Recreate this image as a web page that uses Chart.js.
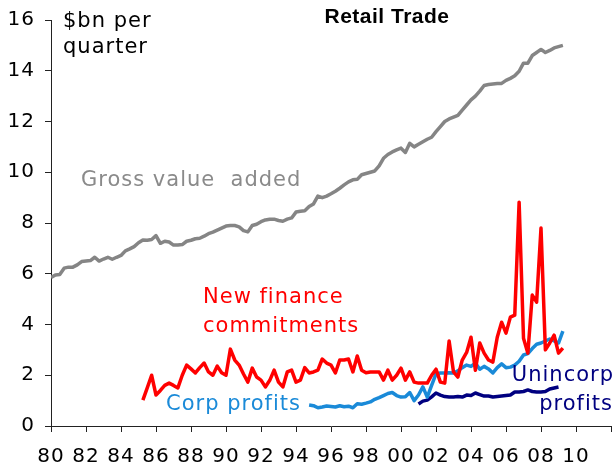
<!DOCTYPE html>
<html lang="en">
<head>
<meta charset="UTF-8">
<title>Retail Trade</title>
<script src="https://cdn.jsdelivr.net/npm/chart.js"></script>
<style>
  html, body { margin: 0; padding: 0; background: #fff; }
  #wrap { width: 615px; height: 473px; }
</style>
</head>
<body>
<div id="wrap"><canvas id="myChart"></canvas></div>
<script>
// quarterly series, $bn per quarter
var gvaStart = 1980;
var gvaValues = [
  5.85, 5.95, 5.97, 6.22, 6.26, 6.26, 6.35, 6.48, 6.5, 6.52, 6.65, 6.5,
  6.58, 6.65, 6.57, 6.65, 6.72, 6.9, 6.98, 7.07, 7.22, 7.33, 7.32, 7.35,
  7.5, 7.2, 7.28, 7.25, 7.13, 7.13, 7.15, 7.28, 7.32, 7.38, 7.4, 7.48,
  7.58, 7.64, 7.72, 7.8, 7.88, 7.9, 7.9, 7.85, 7.7, 7.65, 7.9, 7.95,
  8.05, 8.12, 8.15, 8.15, 8.1, 8.07, 8.15, 8.2, 8.43, 8.46, 8.48, 8.65,
  8.75, 9.06, 9.0, 9.06, 9.15, 9.25, 9.37, 9.5, 9.62, 9.7, 9.72, 9.9,
  9.95, 10.0, 10.05, 10.25, 10.55, 10.7, 10.8, 10.88, 10.95, 10.78, 11.14, 11.0,
  11.1, 11.2, 11.3, 11.38, 11.6, 11.8, 12.0, 12.1, 12.17, 12.24, 12.45, 12.65,
  12.85, 13.0, 13.2, 13.42, 13.46, 13.48, 13.5, 13.5, 13.62, 13.7, 13.8, 13.98,
  14.3, 14.3, 14.6, 14.72, 14.84, 14.72, 14.8, 14.9, 14.95, 15.0
];

var financeStart = 1985.25;
var financeValues = [
  1.02, 1.5, 2.0, 1.22, 1.4, 1.6, 1.69, 1.6, 1.5, 2.0, 2.4, 2.25,
  2.09, 2.3, 2.48, 2.13, 2.0, 2.36, 2.1, 2.0, 3.03, 2.6, 2.4, 2.05,
  1.73, 2.28, 1.93, 1.81, 1.54, 1.8, 2.2, 1.73, 1.54, 2.13, 2.2, 1.73,
  1.81, 2.3, 2.09, 2.13, 2.2, 2.64, 2.48, 2.4, 2.09, 2.6, 2.6, 2.64,
  2.13, 2.76, 2.2, 2.1, 2.13, 2.13, 2.13, 1.81, 2.2, 1.81, 2.0, 2.28,
  1.81, 2.13, 1.73, 1.69, 1.69, 1.69, 2.0, 2.24, 1.73, 1.69, 3.35, 2.13,
  1.93, 2.6, 2.9, 3.5, 2.2, 3.27, 2.87, 2.6, 2.52, 3.5, 4.09, 3.66,
  4.29, 4.37, 8.82, 3.46, 2.87, 5.16, 4.88, 7.8, 3.0, 3.27, 3.58, 2.87,
  3.07
];

var corpStart = 1994.75;
var corpValues = [
  0.83, 0.8, 0.72, 0.75, 0.79, 0.77, 0.75, 0.8, 0.76, 0.78, 0.72, 0.88,
  0.86, 0.9, 0.95, 1.05, 1.12, 1.2, 1.28, 1.32, 1.2, 1.14, 1.15, 1.32,
  1.0, 1.22, 1.54, 1.14, 1.6, 2.05, 2.09, 2.09, 2.1, 2.09, 2.17, 2.3,
  2.4, 2.35, 2.48, 2.24, 2.35, 2.25, 2.09, 2.3, 2.45, 2.3, 2.32, 2.4,
  2.55, 2.8, 2.85, 3.05, 3.22, 3.27, 3.35, 3.43, 3.35, 3.27, 3.74
];

var unincorpStart = 2001;
var unincorpValues = [
  0.87, 0.98, 1.02, 1.15, 1.3, 1.22, 1.16, 1.14, 1.14, 1.16, 1.14, 1.22,
  1.2, 1.3, 1.24, 1.18, 1.18, 1.14, 1.16, 1.18, 1.2, 1.22, 1.34, 1.34,
  1.36, 1.42, 1.36, 1.34, 1.34, 1.36, 1.46, 1.5, 1.54
];

var yearTicks = [1980, 1982, 1984, 1986, 1988, 1990, 1992, 1994, 1996,
  1998, 2000, 2002, 2004, 2006, 2008, 2010, 2012];

function quarterly(start, values) {
  return values.map(function (v, i) { return { x: start + i * 0.25, y: v }; });
}

// text labels drawn on the canvas
var labelsPlugin = {
  id: 'labels',
  beforeDraw: function (chart) {
    chart.ctx.letterSpacing = '1px';
  },
  afterDatasetsDraw: function (chart) {
    var ctx = chart.ctx;
    ctx.save();
    ctx.textBaseline = 'middle';
    ctx.fillStyle = '#000';
    ctx.letterSpacing = '0.5px';
    ctx.font = 'bold 21px "Liberation Sans", Arial, sans-serif';
    ctx.textAlign = 'center';
    ctx.fillText('Retail Trade', 387, 17);

    ctx.letterSpacing = '1px';
    ctx.font = '21px "DejaVu Sans", Verdana, sans-serif';
    ctx.textAlign = 'left';
    ctx.fillText('$bn per', 63, 22);
    ctx.fillText('quarter', 63, 48);

    ctx.fillStyle = '#8a8a8a';
    ctx.fillText('Gross value  added', 81, 181);

    ctx.fillStyle = '#ff0000';
    ctx.fillText('New finance', 203, 298);
    ctx.fillText('commitments', 203, 327);

    ctx.fillStyle = '#1a8ad8';
    ctx.fillText('Corp profits', 166, 405);

    ctx.fillStyle = '#000080';
    ctx.textAlign = 'right';
    ctx.fillText('Unincorp', 614, 376);
    ctx.fillText('profits', 613, 405);
    ctx.restore();
  }
};

var tickFont = { family: '"DejaVu Sans", Verdana, sans-serif', size: 20 };

var ctx = document.getElementById('myChart').getContext('2d');
var myChart = new Chart(ctx, {
  type: 'line',
  data: {
    datasets: [
      { label: 'Gross value added', data: quarterly(gvaStart, gvaValues),
        borderColor: '#858585', borderWidth: 3.5 },
      { label: 'New finance commitments', data: quarterly(financeStart, financeValues),
        borderColor: '#ff0000', borderWidth: 3.5 },
      { label: 'Corp profits', data: quarterly(corpStart, corpValues),
        borderColor: '#1a8ad8', borderWidth: 3.5 },
      { label: 'Unincorp profits', data: quarterly(unincorpStart, unincorpValues),
        borderColor: '#000080', borderWidth: 3.5 }
    ]
  },
  options: {
    responsive: true,
    maintainAspectRatio: false,
    animation: false,
    elements: { point: { radius: 0 }, line: { tension: 0, borderJoinStyle: 'round' } },
    layout: { padding: { top: 20, right: 4, left: 0, bottom: 0 } },
    plugins: { legend: { display: false }, tooltip: { enabled: false } },
    scales: {
      x: {
        type: 'linear',
        min: 1980,
        max: 2012,
        afterBuildTicks: function (scale) {
          scale.ticks = yearTicks.map(function (v) { return { value: v }; });
        },
        afterFit: function (scale) {
          scale.height = 47;
          scale.paddingLeft = 0;
          scale.paddingRight = 0;
        },
        ticks: {
          autoSkip: false,
          maxRotation: 0,
          padding: 13,
          color: '#000',
          font: tickFont,
          callback: function (v) {
            if (v === 2012) return '';
            return String(v % 100).padStart(2, '0');
          }
        },
        grid: { drawOnChartArea: false, drawTicks: true, tickLength: 6, tickColor: '#222' },
        border: { color: '#222', width: 1 }
      },
      y: {
        min: 0,
        max: 16,
        afterFit: function (scale) {
          scale.width = 51;
          scale.paddingTop = 0;
          scale.paddingBottom = 0;
        },
        ticks: { stepSize: 2, padding: 10, color: '#000', font: tickFont },
        grid: { drawOnChartArea: false, drawTicks: true, tickLength: 6, tickColor: '#222' },
        border: { color: '#222', width: 1 }
      }
    }
  },
  plugins: [labelsPlugin]
});
</script>
</body>
</html>
